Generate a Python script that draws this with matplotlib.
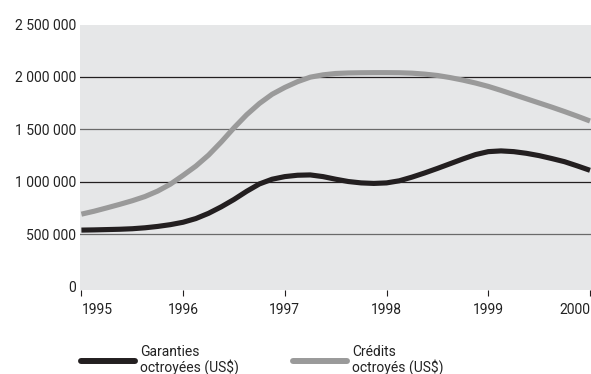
import matplotlib
matplotlib.use("Agg")
import matplotlib.pyplot as plt
import numpy as np

plt.rcParams['font.family'] = ['Roboto', 'DejaVu Sans']

# readings every eighth of a year, 1995 -> 2000
years = np.arange(1995, 2000.001, 0.125)
garanties = [540, 542, 545, 548, 553, 562, 575, 592,
             615, 650, 700, 762, 832, 910, 980, 1025,
             1050, 1063, 1066, 1050, 1025, 1003, 990, 985,
             990, 1010, 1045, 1085, 1128, 1173, 1218, 1260,
             1288, 1295, 1288, 1272, 1250, 1222, 1192, 1152,
             1110]
credits = [692, 720, 752, 785, 820, 860, 912, 978,
           1062, 1150, 1255, 1380, 1515, 1640, 1747, 1835,
           1900, 1955, 1998, 2020, 2033, 2038, 2040, 2041,
           2041, 2040, 2036, 2027, 2014, 1994, 1970, 1942,
           1910, 1872, 1832, 1792, 1752, 1712, 1670, 1626,
           1580]
garanties = np.array(garanties) * 1000
credits = np.array(credits) * 1000

year_ticks = [1995, 1996, 1997, 1998, 1999, 2000]
value_ticks = [0, 500000, 1000000, 1500000, 2000000, 2500000]
labels = ["Garanties\noctroyées (US$)", "Crédits\noctroyés (US$)"]

black = "#231f20"
grey = "#9a9a9a"

fig = plt.figure(figsize=(5.91, 3.74), dpi=100)
ax = fig.add_axes([80/591, 1-290/374, 511/591, 265.5/374])
ax.set_facecolor("#e6e7e8")

# horizontal rules, alternating dark / mid grey
grid_cols = {500000: "#6a6a6a", 1000000: black, 1500000: "#6a6a6a", 2000000: black}
for v, c in grid_cols.items():
  ax.axhline(v, color=c, linewidth=0.9, zorder=1)

ax.plot(years, garanties, color=black, linewidth=3.7, solid_capstyle="butt",
        solid_joinstyle="round", label=labels[0], zorder=3)
ax.plot(years, credits, color=grey, linewidth=3.7, solid_capstyle="butt",
        solid_joinstyle="round", label=labels[1], zorder=2)

ax.set_xlim(1995 - 1.4/101.8, 2000 + 1/101.8)
ax.set_ylim(-31000, 2500000)

for s in ax.spines.values():
  s.set_visible(False)

ax.set_yticks(value_ticks)
ax.set_yticklabels([f"{v:,.0f}".replace(",", " ") for v in value_ticks])
ax.tick_params(axis="y", length=0, pad=3, labelsize=10, labelcolor="#222222")

ax.set_xticks(year_ticks)
ax.set_xticklabels([str(y) for y in year_ticks])
ax.tick_params(axis="x", length=4.5, width=0.8, color=black, pad=5,
               labelsize=10, labelcolor="#222222")
xlabs = ax.get_xticklabels()
xlabs[0].set_ha("left")
xlabs[-1].set_ha("right")

leg = fig.legend(loc="center left", bbox_to_anchor=(81/591, 1-360/374), ncol=2,
                 frameon=False, fontsize=10, handlelength=3.9, handletextpad=0.35,
                 columnspacing=3.9, borderpad=0, borderaxespad=0)
for line in leg.get_lines():
  line.set_linewidth(4.3)
  line.set_solid_capstyle("round")
for t in leg.get_texts():
  t.set_linespacing(1.0)
  t.set_color("#222222")

fig.savefig("out.png", dpi=100)
